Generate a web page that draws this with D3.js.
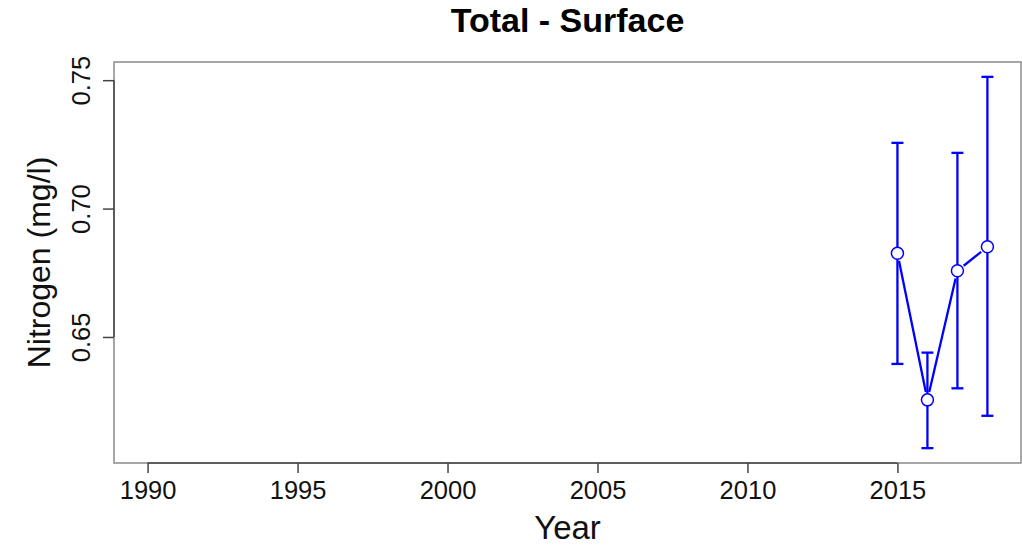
<!DOCTYPE html>
<html lang="en">
  <head>
    <meta charset="UTF-8" />
    <title>Total - Surface</title>
    <script src="https://cdn.jsdelivr.net/npm/d3@7"></script>
    <style>
      body {
        margin: 0;
        background: #fff;
      }
      text {
        font-family: "Liberation Sans", Arial, sans-serif;
      }
    </style>
  </head>
  <body>
    <div id="wrapper"></div>
    <script>
      // values
      const years = [2015, 2016, 2017, 2018];
      const means = [0.6826, 0.6255, 0.6758, 0.6851];
      const lower = [0.6395, 0.6067, 0.63, 0.6193];
      const upper = [0.7256, 0.6439, 0.7217, 0.7513];
      const xTicks = [1990, 1995, 2000, 2005, 2010, 2015];
      const yTicks = [0.65, 0.7, 0.75];

      const data = years.map((y, i) => ({
        year: y,
        mean: means[i],
        lo: lower[i],
        hi: upper[i],
      }));

      let dimensions = {
        width: 1022,
        height: 546,
        margin: { top: 62, right: 1, bottom: 83, left: 114 },
      };
      dimensions.boundedWidth =
        dimensions.width - dimensions.margin.left - dimensions.margin.right;
      dimensions.boundedHeight =
        dimensions.height - dimensions.margin.top - dimensions.margin.bottom;

      const svg = d3
        .select("#wrapper")
        .append("svg")
        .attr("width", dimensions.width)
        .attr("height", dimensions.height);

      const bounds = svg
        .append("g")
        .attr(
          "transform",
          `translate(${dimensions.margin.left},${dimensions.margin.top})`
        );

      // R style 4% padding on both axes
      const xPad = (2018 - 1990) * 0.04;
      const xScale = d3
        .scaleLinear()
        .domain([1990 - xPad, 2018 + xPad])
        .range([0, dimensions.boundedWidth]);

      const yMin = d3.min(lower);
      const yMax = d3.max(upper);
      const yPad = (yMax - yMin) * 0.04;
      const yScale = d3
        .scaleLinear()
        .domain([yMin - yPad, yMax + yPad])
        .range([dimensions.boundedHeight, 0]);

      // plot box
      bounds
        .append("rect")
        .attr("width", dimensions.boundedWidth)
        .attr("height", dimensions.boundedHeight)
        .attr("fill", "none")
        .attr("stroke", "#8a8a8a")
        .attr("stroke-width", 1.5);

      // axes
      const xAxis = bounds
        .append("g")
        .attr("transform", `translate(0,${dimensions.boundedHeight})`)
        .call(
          d3
            .axisBottom(xScale)
            .tickValues(xTicks)
            .tickFormat(d3.format("d"))
            .tickSizeOuter(0)
            .tickSizeInner(10)
            .tickPadding(8)
        );
      xAxis
        .select(".domain")
        .attr("d", `M${xScale(xTicks[0])},0H${xScale(xTicks[xTicks.length - 1])}`)
        .attr("stroke", "#444")
        .attr("stroke-width", 1.5);
      xAxis.selectAll(".tick line").attr("stroke", "#444").attr("stroke-width", 1.5);
      xAxis
        .selectAll(".tick text")
        .attr("font-size", 25.5)
        .attr("fill", "#111");

      const yAxis = bounds.append("g").call(
        d3
          .axisLeft(yScale)
          .tickValues(yTicks)
          .tickFormat(d3.format(".2f"))
          .tickSizeOuter(0)
          .tickSizeInner(11)
      );
      yAxis
        .select(".domain")
        .attr("d", `M0,${yScale(yTicks[0])}V${yScale(yTicks[yTicks.length - 1])}`)
        .attr("stroke", "#444")
        .attr("stroke-width", 1.5);
      yAxis.selectAll(".tick line").attr("stroke", "#444").attr("stroke-width", 1.5);
      yAxis
        .selectAll(".tick text")
        .attr("font-size", 25.5)
        .attr("fill", "#111")
        .attr("text-anchor", "middle")
        .attr("x", null)
        .attr("dy", null)
        .attr("transform", "translate(-24,0) rotate(-90)");

      // error bars
      const blue = "#0000ff";
      const cap = 6;
      const bars = bounds.append("g").attr("stroke", blue).attr("stroke-width", 2.3);
      data.forEach((d) => {
        const x = xScale(d.year);
        bars
          .append("line")
          .attr("x1", x)
          .attr("x2", x)
          .attr("y1", yScale(d.lo))
          .attr("y2", yScale(d.hi));
        [d.lo, d.hi].forEach((v) => {
          bars
            .append("line")
            .attr("x1", x - cap)
            .attr("x2", x + cap)
            .attr("y1", yScale(v))
            .attr("y2", yScale(v));
        });
      });

      // connecting line (type "b": gaps round the points)
      const r = 6;
      const gap = r + 2;
      for (let i = 0; i < data.length - 1; i++) {
        const x1 = xScale(data[i].year);
        const y1 = yScale(data[i].mean);
        const x2 = xScale(data[i + 1].year);
        const y2 = yScale(data[i + 1].mean);
        const len = Math.hypot(x2 - x1, y2 - y1);
        const ux = (x2 - x1) / len;
        const uy = (y2 - y1) / len;
        bounds
          .append("line")
          .attr("x1", x1 + ux * gap)
          .attr("y1", y1 + uy * gap)
          .attr("x2", x2 - ux * gap)
          .attr("y2", y2 - uy * gap)
          .attr("stroke", blue)
          .attr("stroke-width", 2.3);
      }

      bounds
        .selectAll("circle")
        .data(data)
        .join("circle")
        .attr("cx", (d) => xScale(d.year))
        .attr("cy", (d) => yScale(d.mean))
        .attr("r", r)
        .attr("fill", "#fff")
        .attr("stroke", blue)
        .attr("stroke-width", 1.5);

      // labels
      svg
        .append("text")
        .attr("x", dimensions.margin.left + dimensions.boundedWidth / 2)
        .attr("y", 32)
        .attr("text-anchor", "middle")
        .attr("font-size", 34)
        .attr("font-weight", "bold")
        .text("Total - Surface");

      svg
        .append("text")
        .attr("x", dimensions.margin.left + dimensions.boundedWidth / 2)
        .attr("y", 539)
        .attr("text-anchor", "middle")
        .attr("font-size", 33)
        .attr("fill", "#111")
        .text("Year");

      svg
        .append("text")
        .attr(
          "transform",
          `translate(50,${dimensions.margin.top + dimensions.boundedHeight / 2}) rotate(-90)`
        )
        .attr("text-anchor", "middle")
        .attr("font-size", 32)
        .attr("fill", "#111")
        .text("Nitrogen (mg/l)");
    </script>
  </body>
</html>
